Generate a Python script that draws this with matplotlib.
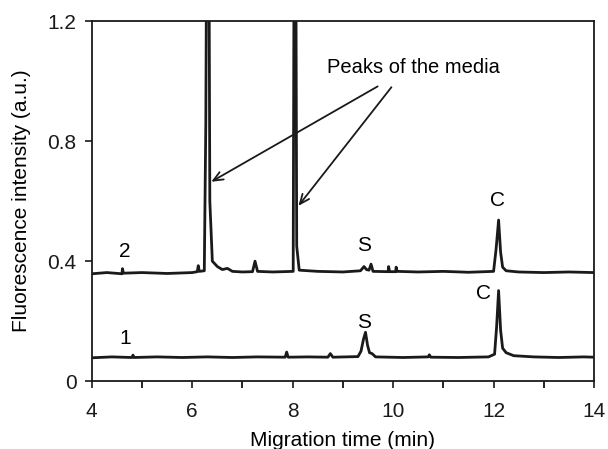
import matplotlib
matplotlib.use("Agg")
import matplotlib.pyplot as plt
from matplotlib.ticker import MultipleLocator

plt.rcParams['font.family'] = ['Liberation Sans', 'DejaVu Sans']

# trace 1 (bottom)
t1 = [4.0, 4.4, 4.8, 4.82, 4.84, 5.3, 5.8, 6.3, 6.8, 7.3, 7.85, 7.88, 7.91, 8.3,
      8.7, 8.75, 8.8, 9.3, 9.36, 9.41, 9.45, 9.49, 9.53, 9.58, 9.65, 10.2, 10.7,
      10.72, 10.75, 11.3, 11.9, 12.02, 12.06, 12.1, 12.14, 12.18, 12.25, 12.4,
      12.8, 13.3, 13.8, 14.0]
y1 = [0.078, 0.081, 0.079, 0.087, 0.079, 0.081, 0.079, 0.081, 0.079, 0.081, 0.08, 0.097, 0.08, 0.081,
      0.08, 0.092, 0.08, 0.082, 0.10, 0.14, 0.163, 0.12, 0.095, 0.092, 0.081, 0.079, 0.081,
      0.088, 0.08, 0.079, 0.081, 0.09, 0.18, 0.302, 0.17, 0.11, 0.095, 0.085,
      0.081, 0.079, 0.081, 0.08]

# trace 2 (top, shifted)
t2 = [4.0, 4.3, 4.6, 4.61, 4.63, 5.0, 5.5, 6.0, 6.1, 6.12, 6.14, 6.24, 6.27, 6.29,
      6.33, 6.35, 6.4, 6.5, 6.6, 6.7, 6.8, 7.0, 7.2, 7.25, 7.3, 7.6, 8.01, 8.03,
      8.06, 8.08, 8.13, 8.5, 9.0, 9.35, 9.42, 9.47, 9.52, 9.56, 9.6, 9.9, 9.91,
      9.93, 10.05, 10.06, 10.08, 10.5, 11.0, 11.5, 12.0, 12.05, 12.1, 12.14,
      12.18, 12.25, 12.5, 13.0, 13.5, 14.0]
y2 = [0.358, 0.362, 0.358, 0.375, 0.36, 0.362, 0.359, 0.362, 0.365, 0.385, 0.366, 0.368, 0.86, 1.6,
      1.6, 0.6, 0.40, 0.382, 0.372, 0.376, 0.366, 0.364, 0.365, 0.40, 0.366, 0.364, 0.366, 1.6,
      1.6, 0.45, 0.37, 0.366, 0.364, 0.368, 0.382, 0.372, 0.37, 0.39, 0.366, 0.365, 0.382,
      0.365, 0.365, 0.38, 0.366, 0.364, 0.366, 0.363, 0.366, 0.44, 0.537, 0.43,
      0.38, 0.368, 0.364, 0.362, 0.364, 0.362]

fig = plt.figure(figsize=(6.08, 4.49), dpi=100)
ax = fig.add_axes([0.151, 0.151, 0.826, 0.802])

ax.plot(t2, y2, color='#1a1a1a', lw=2.0)
ax.plot(t1, y1, color='#1a1a1a', lw=2.0)

ax.set_xlim(4, 14)
ax.set_ylim(0, 1.2)
ax.xaxis.set_major_locator(MultipleLocator(2))
ax.xaxis.set_minor_locator(MultipleLocator(1))
ax.set_yticks([0, 0.4, 0.8, 1.2])
ax.set_yticklabels(['0', '0.4', '0.8', '1.2'])
ax.tick_params(labelsize=15, width=1.2, length=5, colors='#1a1a1a')
ax.tick_params(axis='x', pad=10)
ax.tick_params(axis='y', pad=6)
ax.tick_params(which='minor', width=1.2, length=5)
for s in ax.spines.values():
    s.set_linewidth(1.3)
    s.set_color('#1a1a1a')

ax.set_xlabel('Migration time (min)', fontsize=15, labelpad=7)
ax.set_ylabel('Fluorescence intensity (a.u.)', fontsize=15, labelpad=12)

# peak labels
ax.text(4.66, 0.433, '2', fontsize=15, ha='center', va='center')
ax.text(4.66, 0.143, '1', fontsize=15, ha='center', va='center')
ax.text(9.42, 0.453, 'S', fontsize=15, ha='center', va='center')
ax.text(9.42, 0.197, 'S', fontsize=15, ha='center', va='center')
ax.text(12.07, 0.603, 'C', fontsize=15, ha='center', va='center')
ax.text(11.8, 0.293, 'C', fontsize=15, ha='center', va='center')

ax.text(10.41, 1.047, 'Peaks of the media', fontsize=14.5, ha='center', va='center')
ax.annotate('', xy=(6.33, 0.66), xytext=(9.74, 0.987),
            arrowprops=dict(arrowstyle='->,head_length=0.7,head_width=0.3',
                            color='#1a1a1a', lw=1.3))
ax.annotate('', xy=(8.08, 0.577), xytext=(10.0, 0.987),
            arrowprops=dict(arrowstyle='->,head_length=0.7,head_width=0.3',
                            color='#1a1a1a', lw=1.3))

fig.savefig('out.png', dpi=100)
